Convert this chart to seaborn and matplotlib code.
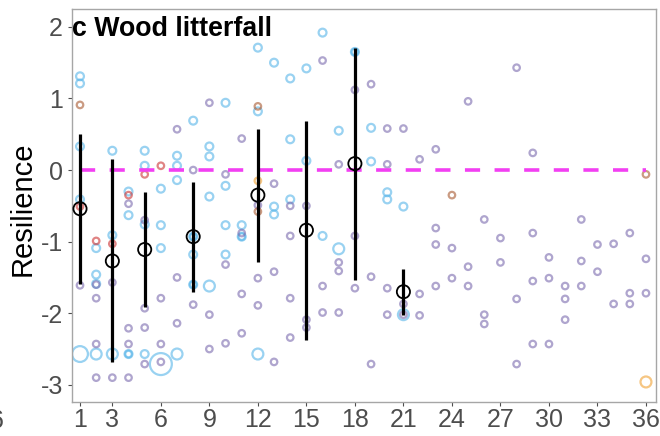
import matplotlib
matplotlib.use("Agg")
import matplotlib.pyplot as plt
import seaborn as sns
import pandas as pd
import numpy as np

# ---------------- data ----------------
# months since disturbance, resilience values, point weight (size class)
blue_x = [1, 1, 1, 1, 1,
          2, 2, 2, 2,
          3, 3, 3,
          4, 4, 4, 4,
          5, 5, 5, 5,
          6, 6, 6, 6,
          7, 7, 7, 7,
          8, 8, 8, 8, 8, 8,
          9, 9, 9, 9,
          10, 10, 10, 10,
          11, 11, 11,
          12, 12, 12,
          13, 13, 13,
          14, 14, 14,
          15, 15,
          16, 16,
          17, 17,
          18, 18,
          19, 19,
          20, 20,
          21, 21]
blue_y = [1.31, 1.21, 0.33, -0.41, -2.57,
          -1.09, -1.46, -1.59, -2.57,
          0.27, -0.91, -2.57,
          -0.30, -0.63, -2.57, -2.57,
          0.27, 0.06, -0.76, -2.57,
          -0.26, -0.77, -1.09, -2.71,
          0.20, 0.06, -0.14, -2.57,
          0.69, -0.93, -0.93, -1.18, -1.60, -1.60,
          0.33, 0.19, -0.37, -1.62,
          0.94, -0.22, -0.77, -1.18,
          -0.77, -0.93, -0.93,
          1.71, 0.82, -2.57,
          1.50, -0.51, -0.62,
          1.28, 0.43, -0.41,
          1.42, 0.13,
          1.92, -0.92,
          0.55, -1.10,
          1.65, 1.65,
          0.59, 0.12,
          -0.31, -0.41,
          -0.51, -2.02]
blue_n = [2, 2, 2, 2, 4,
          2, 2, 2, 3,
          2, 2, 3,
          2, 2, 2, 1,
          2, 2, 2, 2,
          2, 2, 2, 5,
          2, 2, 2, 3,
          2, 2, 1, 2, 2, 1,
          2, 2, 2, 3,
          2, 2, 2, 2,
          2, 2, 1,
          2, 2, 3,
          2, 2, 2,
          2, 2, 2,
          2, 2,
          2, 2,
          2, 3,
          2, 1,
          2, 2,
          2, 2,
          2, 3]

purple_x = [1,
            2, 2, 2, 2,
            3, 3,
            4, 4, 4, 4,
            5, 5, 5, 5,
            6, 6, 6,
            7, 7, 7,
            8, 8,
            9, 9, 9,
            10, 10, 10,
            11, 11, 11, 11,
            12, 12, 12,
            13, 13, 13,
            14, 14, 14, 14,
            15, 15, 15,
            16, 16, 16,
            17, 17, 17, 17,
            18, 18, 18,
            19, 19, 19,
            20, 20, 20, 20,
            21, 21, 21,
            22, 22, 22,
            23, 23, 23, 23,
            24, 24,
            25, 25, 25,
            26, 26, 26,
            27, 27,
            28, 28, 28,
            29, 29, 29, 29,
            30, 30, 30,
            31, 31, 31,
            32, 32, 32,
            33, 33,
            34, 34,
            35, 35, 35,
            36, 36]
purple_y = [-1.61,
            -1.60, -1.79, -2.43, -2.90,
            -1.57, -2.90,
            -0.47, -2.21, -2.43, -2.90,
            -0.70, -1.93, -2.20, -2.71,
            -1.79, -2.43, -2.68,
            0.57, -1.50, -2.14,
            0.00, -1.88,
            0.94, -2.02, -2.50,
            -0.06, -1.32, -2.42,
            0.44, -0.88, -1.73, -2.28,
            -0.49, -1.51, -1.89,
            -0.19, -1.42, -2.68,
            -0.50, -0.92, -1.79, -2.34,
            -0.50, -2.09, -2.20,
            1.53, -1.62, -1.99,
            0.08, -1.29, -1.41, -1.99,
            1.12, -0.92, -1.65,
            1.20, -1.49, -2.71,
            0.58, 0.08, -1.65, -2.02,
            0.58, -1.87, -2.02,
            0.15, -1.73, -2.03,
            0.29, -0.81, -1.04, -1.62,
            -1.09, -1.51,
            0.96, -1.35, -1.62,
            -0.69, -2.02, -2.15,
            -0.95, -1.29,
            1.43, -1.80, -2.71,
            0.24, -0.88, -1.55, -2.43,
            -1.22, -1.51, -2.43,
            -1.62, -1.80, -2.09,
            -0.69, -1.27, -1.62,
            -1.04, -1.42,
            -1.03, -1.87,
            -0.88, -1.72, -1.87,
            -1.24, -1.72]

salmon_x = [1, 12, 12, 24, 36]
salmon_y = [0.91, 0.89, -0.58, -0.35, -0.06]

red_x = [1, 2, 3, 4, 5, 6]
red_y = [-0.51, -0.99, -1.03, -0.35, -0.06, 0.06]

orange_x = [12, 36]
orange_y = [-0.15, -2.96]
orange_n = [1, 3]

# summary estimates (mean and interval)
mean_x = [1, 3, 5, 8, 12, 15, 18, 21]
mean_y = [-0.54, -1.27, -1.11, -0.93, -0.35, -0.84, 0.09, -1.70]
lo_y = [-1.59, -2.68, -1.91, -1.71, -1.28, -2.37, -1.53, -2.02]
hi_y = [0.51, 0.15, -0.30, -0.16, 0.58, 0.68, 1.70, -1.38]

x_ticks = [1, 3, 6, 9, 12, 15, 18, 21, 24, 27, 30, 33, 36]
y_ticks = [-3, -2, -1, 0, 1, 2]
title = "c Wood litterfall"
ylabel = "Resilience"

# ---------------- build table ----------------
frames = [
    pd.DataFrame({"month": blue_x, "res": blue_y, "n": blue_n, "grp": "blue"}),
    pd.DataFrame({"month": purple_x, "res": purple_y, "n": 1, "grp": "purple"}),
    pd.DataFrame({"month": salmon_x, "res": salmon_y, "n": 1, "grp": "salmon"}),
    pd.DataFrame({"month": red_x, "res": red_y, "n": 1, "grp": "red"}),
    pd.DataFrame({"month": orange_x, "res": orange_y, "n": orange_n, "grp": "orange"}),
]
df = pd.concat(frames, ignore_index=True)
means = pd.DataFrame({"month": mean_x, "res": mean_y, "lo": lo_y, "hi": hi_y})

palette = {"blue": "#56B4E9", "purple": "#7A6AAE", "salmon": "#A8582F",
           "red": "#CC3333", "orange": "#F0A030"}
sizes = {1: 22, 2: 32, 3: 62, 4: 130, 5: 250}

# ---------------- plot ----------------
sns.set_theme(style="white")
plt.rcParams["font.family"] = ["Liberation Sans", "DejaVu Sans"]

fig = plt.figure(figsize=(6.6, 4.36), dpi=100)
ax = fig.add_axes([72 / 660, 1 - 402 / 436, (656 - 72) / 660, (402 - 9) / 436])

sns.scatterplot(data=df, x="month", y="res", hue="grp", size="n",
                palette=palette, sizes=sizes, alpha=0.6, linewidth=1.6,
                legend=False, ax=ax, zorder=2)
coll = ax.collections[-1]
fc = coll.get_facecolors()
coll.set_edgecolors(fc)
coll.set_facecolors("none")

# reference line at zero
sns.lineplot(x=[1, 36], y=[0, 0], ax=ax, color="#F23FF2", lw=2.6, zorder=3)
ax.lines[-1].set_dashes((4.2, 4.0))

# intervals and means
ax.vlines(means["month"], means["lo"], means["hi"], color="black", lw=2.3, zorder=4)
sns.scatterplot(data=means, x="month", y="res", color="black", s=90,
                linewidth=1.3, ax=ax, zorder=5, legend=False)
mc = ax.collections[-1]
mc.set_facecolors("none")
mc.set_edgecolors("black")

ax.set_xlim(0.505, 36.62)
ax.set_ylim(-3.24, 2.25)
ax.set_xticks(x_ticks)
ax.set_yticks(y_ticks)
ax.set_xticklabels([str(t) for t in x_ticks])
ax.set_yticklabels([str(t) for t in y_ticks])
ax.tick_params(axis="both", labelsize=18, labelcolor="#4D4D4D", color="#4D4D4D",
               length=3, width=0.8, direction="out", bottom=True, left=True)
ax.tick_params(axis="x", pad=1)
ax.tick_params(axis="y", pad=3.5)
ax.set_xlabel("")
ax.set_ylabel("")
for sp in ax.spines.values():
    sp.set_color("#A6A6A6")
    sp.set_linewidth(1.0)

ax.text(0.0, 0.931, title, transform=ax.transAxes, ha="left", va="baseline",
        fontsize=19.3, fontweight="bold", color="black")
fig.text(22.5 / 660, 1 - 209 / 436, ylabel, rotation=90, ha="center", va="center",
         fontsize=21, color="black")
fig.text(-3.5 / 660, 1 - 428 / 436, "6", ha="center", va="baseline",
         fontsize=18, color="#4D4D4D")

fig.savefig("out.png", dpi=100)
